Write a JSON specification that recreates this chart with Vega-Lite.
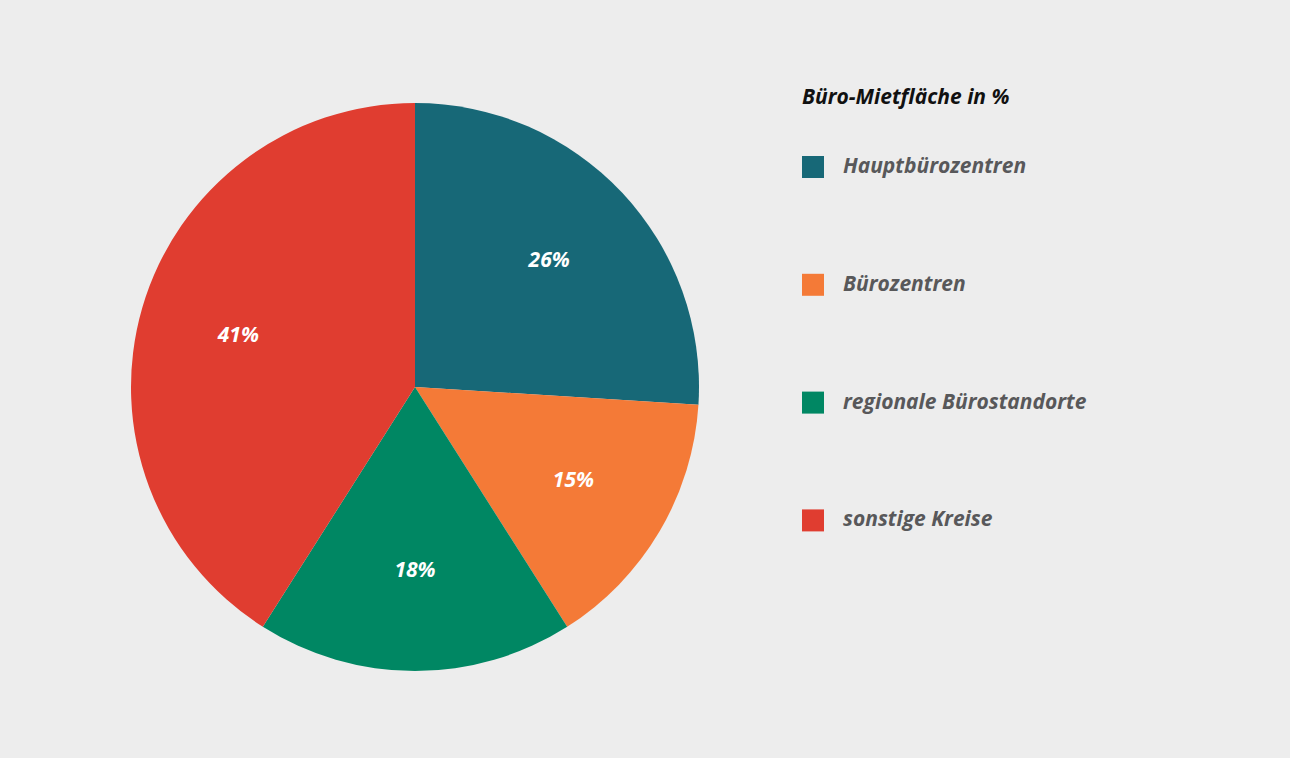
{
  "$schema": "https://vega.github.io/schema/vega-lite/v6.json",
  "width": 830,
  "height": 758,
  "padding": {"left": 0, "top": 8, "right": 460, "bottom": 0},
  "autosize": {"type": "none"},
  "background": "#ededed",
  "config": {"view": {"stroke": null}},
  "data": {"values": [
    {"kategorie": "Hauptbürozentren", "anteil": 26, "ord": 1},
    {"kategorie": "Bürozentren", "anteil": 15, "ord": 2},
    {"kategorie": "regionale Bürostandorte", "anteil": 18, "ord": 3},
    {"kategorie": "sonstige Kreise", "anteil": 41, "ord": 4}
  ]},
  "encoding": {
    "theta": {"field": "anteil", "type": "quantitative", "stack": true},
    "order": {"field": "ord", "type": "quantitative"},
    "color": {
      "field": "kategorie", "type": "nominal",
      "scale": {
        "domain": ["Hauptbürozentren", "Bürozentren", "regionale Bürostandorte", "sonstige Kreise"],
        "range": ["#176877", "#f47a37", "#008763", "#e03d30"]
      },
      "legend": {
        "title": "Büro-Mietfläche in %",
        "orient": "none",
        "legendX": 802,
        "legendY": 79,
        "titleFont": "Open Sans",
        "titleFontStyle": "italic",
        "titleFontWeight": 700,
        "titleFontSize": 21,
        "titleColor": "#111111",
        "titlePadding": 48,
        "titleLimit": 500,
        "labelFont": "Open Sans",
        "labelFontStyle": "italic",
        "labelFontWeight": 700,
        "labelFontSize": 21,
        "labelColor": "#58585a",
        "labelOffset": 19,
        "symbolType": "square",
        "symbolSize": 484,
        "symbolStrokeWidth": 0,
        "symbolOpacity": 1,
        "rowPadding": 95.8,
        "labelLimit": 500
      }
    }
  },
  "layer": [
    {"mark": {"type": "arc", "outerRadius": 284, "stroke": null}},
    {
      "transform": [{"calculate": "datum.anteil + '%'", "as": "beschriftung"}],
      "mark": {"type": "text", "radius": 184, "font": "Open Sans", "fontStyle": "italic", "fontWeight": 700, "fontSize": 21},
      "encoding": {
        "text": {"field": "beschriftung", "type": "nominal"},
        "color": {"value": "#ffffff"}
      }
    }
  ]
}
